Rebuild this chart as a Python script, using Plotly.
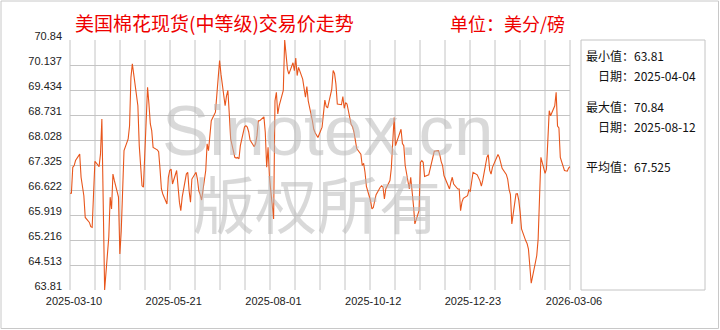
import pandas as pd
import plotly.graph_objects as go

# ---------------- data ----------------
start_date = "2025-03-10"
end_date = "2026-03-06"
dates = pd.bdate_range(start_date, end_date)

prices = [
    66.53, 66.53, 67.26, 67.31, 67.45, 67.63, 66.98, 66.70, 66.46, 65.85,
    65.71, 65.59, 65.57, 66.51, 67.43, 67.28, 67.63, 68.62, 66.60, 63.81,
    65.30, 66.42, 66.09, 67.07, 66.89, 66.42, 64.82, 65.48, 66.60, 67.73,
    68.06, 68.43, 69.79, 70.17, 69.88, 68.99, 67.87, 67.17, 66.74, 66.70,
    69.51, 69.04, 68.48, 68.29, 67.82, 67.75, 67.70, 67.21, 66.65, 66.51,
    66.23, 66.98, 67.17, 67.21, 66.79, 67.17, 66.65, 66.28, 66.04, 66.42,
    67.07, 67.12, 66.60, 66.28, 66.93, 67.12, 66.93, 66.60, 66.49, 66.34,
    67.17, 67.92, 67.73, 68.10, 68.57, 68.81, 69.27, 69.60, 70.26, 69.88,
    68.99, 69.27, 69.42, 68.76, 68.06, 67.54, 67.52, 67.54, 67.50, 67.87,
    68.40, 68.43, 68.39, 68.26, 68.03, 67.84, 67.93, 68.15, 68.57, 68.57,
    68.68, 68.24, 67.26, 67.82, 66.98, 65.81, 69.13, 69.37, 68.76, 68.99,
    69.42, 70.84, 70.33, 70.02, 69.88, 70.20, 69.98, 70.33, 69.84, 70.07,
    69.74, 69.43, 69.23, 69.53, 69.13, 68.57, 68.33, 68.23, 68.14, 68.10,
    68.39, 68.74, 69.15, 68.97, 68.93, 69.46, 69.98, 69.90, 69.60, 69.04,
    69.02, 69.25, 68.92, 69.08, 69.04, 68.46, 68.40, 68.26, 67.95, 67.79,
    67.63, 67.31, 67.37, 67.12, 66.72, 66.32, 66.09, 66.13, 66.32, 66.49,
    66.70, 66.74, 66.70, 66.37, 66.65, 66.89, 67.24, 67.87, 68.66, 67.87,
    68.20, 68.33, 67.93, 67.87, 67.31, 66.65, 66.98, 66.43, 66.18, 65.67,
    66.04, 67.40, 67.45, 67.40, 67.00, 67.05, 67.24, 67.42, 67.59, 67.71,
    67.73, 67.61, 67.42, 67.31, 67.03, 66.77, 66.65, 66.84, 66.98, 66.79,
    66.65, 66.65, 66.04, 66.28, 66.39, 66.46, 66.62, 66.59, 66.93, 67.12,
    67.05, 66.97, 66.88, 66.73, 66.89, 67.54, 67.62, 67.18, 67.07, 67.26,
    67.56, 67.62, 67.54, 67.37, 67.23, 67.06, 66.93, 66.64, 66.49, 65.67,
    66.51, 66.52, 66.34, 66.00, 65.53, 65.20, 65.12, 64.96, 64.45, 64.00,
    64.58, 64.78, 65.24, 66.51, 67.54, 67.09, 67.21, 68.01, 68.85, 68.71,
    68.99, 69.37, 68.42, 68.37, 67.54, 67.17, 67.17, 67.15, 67.24, 67.28,
]

x_tick_labels = ["2025-03-10", "2025-05-21", "2025-08-01",
                 "2025-10-12", "2025-12-23", "2026-03-06"]
y_tick_values = [63.81, 64.513, 65.216, 65.919, 66.622, 67.325,
                 68.028, 68.731, 69.434, 70.137, 70.84]
y_tick_labels = ["63.81", "64.513", "65.216", "65.919", "66.622", "67.325",
                 "68.028", "68.731", "69.434", "70.137", "70.84"]
avg_value = "67.525"

title_text = "美国棉花现货(中等级)交易价走势"
unit_text = "单位：美分/磅"
watermark_1 = "Sinotex.cn"
watermark_2 = "版权所有"

# ---------------- figure ----------------
L, R, T, B = 70, 150, 40, 40
W, H = 720, 330
pw, ph = W - L - R, H - T - B


def px(xp):
    return (xp - L) / pw


def py(yp):
    return (H - B - yp) / ph


fig = go.Figure()
fig.add_trace(go.Scatter(
    x=dates, y=prices, mode="lines",
    line=dict(color="#e8561c", width=1.1),
    hoverinfo="skip", showlegend=False,
))

grid_col = "#c4c4c4"
shapes = []
for i in range(21):
    shapes.append(dict(type="line", xref="paper", yref="paper",
                       x0=i / 20, x1=i / 20, y0=0, y1=1,
                       line=dict(color=grid_col, width=1), layer="below"))
shapes.append(dict(type="rect", xref="paper", yref="paper",
                   x0=px(581), x1=px(705), y0=py(290), y1=py(40),
                   line=dict(color=grid_col, width=1)))
shapes.append(dict(type="rect", xref="paper", yref="paper",
                   x0=px(1), x1=px(718.5), y0=py(328.5), y1=py(1),
                   line=dict(color="#c8c8c8", width=1)))

imin = prices.index(min(prices))
imax = prices.index(max(prices))
min_txt = f"{min(prices):.2f}"
max_txt = f"{max(prices):.2f}"
min_date = dates[imin].strftime("%Y-%m-%d")
max_date = dates[imax].strftime("%Y-%m-%d")

cjk = "Noto Sans CJK SC"
wm_col = "rgba(185,185,185,0.55)"
ann = []
ann.append(dict(text=watermark_1, xref="paper", yref="paper",
                x=px(328), y=py(130), showarrow=False,
                font=dict(family="Liberation Sans", size=71, color=wm_col),
                xanchor="center", yanchor="middle"))
ann.append(dict(text=watermark_2, xref="paper", yref="paper",
                x=px(317), y=py(202), showarrow=False,
                font=dict(family=cjk, size=62, color=wm_col),
                xanchor="center", yanchor="middle"))
ann.append(dict(text=title_text, xref="paper", yref="paper",
                x=px(73), y=py(23), showarrow=False, xanchor="left", yanchor="middle",
                font=dict(family=cjk, size=19, color="#ee0000")))
ann.append(dict(text=unit_text, xref="paper", yref="paper",
                x=px(448), y=py(23), showarrow=False, xanchor="left", yanchor="middle",
                font=dict(family=cjk, size=18, color="#ee0000")))
panel = [
    (584, 56, f"最小值：{min_txt}"),
    (596, 75, f"日期：{min_date}"),
    (584, 106, f"最大值：{max_txt}"),
    (596, 126, f"日期：{max_date}"),
    (584, 166, f"平均值：{avg_value}"),
]
for xp, yp, t in panel:
    ann.append(dict(text=t, xref="paper", yref="paper", x=px(xp), y=py(yp),
                    showarrow=False, xanchor="left", yanchor="middle",
                    font=dict(family=cjk, size=12, color="#111111")))

fig.update_layout(
    width=W, height=H,
    margin=dict(l=L, r=R, t=T, b=B),
    paper_bgcolor="white", plot_bgcolor="white",
    shapes=shapes, annotations=ann,
    xaxis=dict(type="date", range=[start_date, end_date],
               tickvals=x_tick_labels, ticktext=x_tick_labels,
               showgrid=False, zeroline=False, showline=False, ticks="",
               ticklabelshift=4, ticklabelstandoff=3,
               tickfont=dict(family="Liberation Sans", size=11, color="#222222")),
    yaxis=dict(range=[y_tick_values[0], y_tick_values[-1]],
               tickvals=y_tick_values, ticktext=y_tick_labels,
               showgrid=True, gridcolor=grid_col, gridwidth=1,
               zeroline=False, showline=False, ticks="",
               ticklabelshift=-4, ticklabelstandoff=7,
               tickfont=dict(family="Liberation Sans", size=11, color="#222222")),
)

fig.write_html("out.html")
